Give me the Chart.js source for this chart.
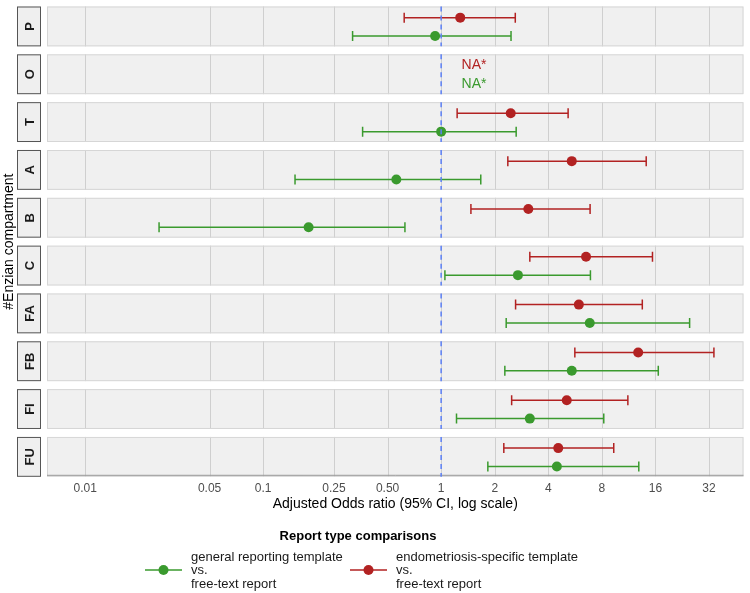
<!DOCTYPE html>
<html>
<head>
<meta charset="utf-8">
<script src="https://cdn.jsdelivr.net/npm/chart.js@4"></script>
<style>
  html, body { margin: 0; background: #fff; }
  #wrap { width: 750px; height: 593px; position: relative; }
</style>
</head>
<body>
<div id="wrap"><canvas id="forest"></canvas></div>
<script>
// Enzian compartments, top to bottom
const compartments = ['P', 'O', 'T', 'A', 'B', 'C', 'FA', 'FB', 'FI', 'FU'];

// endometriosis-specific template vs. free-text report (null = NA*)
const specificOR   = [1.28, null, 2.46, 5.42, 3.09, 6.52, 5.94, 12.8, 5.08, 4.55];
const specificLow  = [0.62, null, 1.23, 2.37, 1.47, 3.15, 2.62, 5.64, 2.49, 2.25];
const specificHigh = [2.61, null, 5.17, 14.2, 6.87, 15.4, 13.5, 34.1, 11.2, 9.33];

// general reporting template vs. free-text report
const generalOR   = [0.925, null, 1.0, 0.56, 0.18, 2.70, 6.84, 5.42, 3.15, 4.47];
const generalLow  = [0.318, null, 0.362, 0.151, 0.026, 1.05, 2.32, 2.28, 1.22, 1.83];
const generalHigh = [2.47, null, 2.64, 1.67, 0.626, 6.9, 24.9, 16.6, 8.2, 12.9];

const xTicks = [0.01, 0.05, 0.1, 0.25, 0.5, 1, 2, 4, 8, 16, 32];
const xTickLabels = ['0.01', '0.05', '0.1', '0.25', '0.50', '1', '2', '4', '8', '16', '32'];

const RED = '#b22222';
const GREEN = '#3a9a2e';
const FONT = '"Liberation Sans", Arial, Helvetica, sans-serif';

// each panel is 1 unit tall, with a 0.2 gap between panels
const PANEL_STEP = 1.2;
const rowY = (i, offset) => i * PANEL_STEP + offset;

function seriesDatasets(label, color, est, low, high, offset) {
    const sets = [];
    const pts = [];
    const caps = [];
    compartments.forEach((c, i) => {
        if (est[i] == null) return;
        const y = rowY(i, offset);
        sets.push({
            type: 'line',
            data: [{x: low[i], y: y}, {x: high[i], y: y}],
            borderColor: color,
            borderWidth: 1.5,
            pointRadius: 0,
            order: 3
        });
        caps.push({x: low[i], y: y}, {x: high[i], y: y});
        pts.push({x: est[i], y: y});
    });
    sets.push({
        type: 'scatter',
        data: caps,
        pointStyle: 'line',
        rotation: 90,
        radius: 5,
        borderColor: color,
        borderWidth: 1.5,
        order: 2
    });
    sets.push({
        type: 'scatter',
        label: label,
        data: pts,
        pointRadius: 5,
        backgroundColor: color,
        borderColor: color,
        borderWidth: 0,
        order: 1
    });
    return sets;
}

const datasets = [].concat(
    seriesDatasets('specific', RED, specificOR, specificLow, specificHigh, 0.28),
    seriesDatasets('general', GREEN, generalOR, generalLow, generalHigh, 0.74)
);

// panels, grid, strips and axis title behind the marks
const panelPlugin = {
    id: 'panels',
    beforeDatasetsDraw(chart) {
        const {ctx, chartArea, scales} = chart;
        const x = scales.x, y = scales.y;
        ctx.save();
        compartments.forEach((c, i) => {
            const top = y.getPixelForValue(i * PANEL_STEP);
            const bot = y.getPixelForValue(i * PANEL_STEP + 1);
            ctx.fillStyle = '#f0f0f0';
            ctx.fillRect(chartArea.left, top, chartArea.width, bot - top);
            ctx.strokeStyle = '#cfcfcf';
            ctx.lineWidth = 1;
            xTicks.forEach(t => {
                const px = Math.round(x.getPixelForValue(t)) + 0.5;
                ctx.beginPath();
                ctx.moveTo(px, top);
                ctx.lineTo(px, bot);
                ctx.stroke();
            });
            ctx.strokeStyle = '#d6d6d6';
            ctx.strokeRect(chartArea.left + 0.5, top + 0.5, chartArea.width - 1, bot - top - 1);

            // strip on the left
            ctx.fillStyle = '#efefef';
            ctx.fillRect(17, top, 24, bot - top);
            ctx.strokeStyle = '#555';
            ctx.strokeRect(17.5, top + 0.5, 23, bot - top - 1);
            ctx.save();
            ctx.translate(30, (top + bot) / 2);
            ctx.rotate(-Math.PI / 2);
            ctx.fillStyle = '#1a1a1a';
            ctx.font = 'bold 13px ' + FONT;
            ctx.textAlign = 'center';
            ctx.textBaseline = 'middle';
            ctx.fillText(c, 0, 0);
            ctx.restore();
        });
        // bottom axis line
        ctx.strokeStyle = '#999';
        ctx.beginPath();
        ctx.moveTo(chartArea.left, chartArea.bottom - 1.5);
        ctx.lineTo(chartArea.right, chartArea.bottom - 1.5);
        ctx.stroke();

        // y title
        ctx.save();
        ctx.translate(9, (chartArea.top + chartArea.bottom) / 2);
        ctx.rotate(-Math.PI / 2);
        ctx.fillStyle = '#000';
        ctx.font = '14px ' + FONT;
        ctx.textAlign = 'center';
        ctx.textBaseline = 'middle';
        ctx.fillText('#Enzian compartment', 0, 0);
        ctx.restore();
        ctx.restore();
    },
    afterDatasetsDraw(chart) {
        const {ctx, scales} = chart;
        const x = scales.x, y = scales.y;
        ctx.save();
        const px = x.getPixelForValue(1);
        ctx.strokeStyle = '#5b7ff5';
        ctx.lineWidth = 1.5;
        ctx.setLineDash([5, 4]);
        compartments.forEach((c, i) => {
            ctx.beginPath();
            ctx.moveTo(px, y.getPixelForValue(i * PANEL_STEP));
            ctx.lineTo(px, y.getPixelForValue(i * PANEL_STEP + 1));
            ctx.stroke();
        });
        ctx.setLineDash([]);
        // NA* labels where no estimate exists
        ctx.font = '14px ' + FONT;
        ctx.textAlign = 'center';
        ctx.textBaseline = 'middle';
        compartments.forEach((c, i) => {
            if (specificOR[i] == null) {
                ctx.fillStyle = RED;
                ctx.fillText('NA*', x.getPixelForValue(1.53), y.getPixelForValue(rowY(i, 0.28)));
            }
            if (generalOR[i] == null) {
                ctx.fillStyle = GREEN;
                ctx.fillText('NA*', x.getPixelForValue(1.53), y.getPixelForValue(rowY(i, 0.74)));
            }
        });
        ctx.restore();
    },
    afterDraw(chart) {
        const ctx = chart.ctx;
        ctx.save();
        ctx.fillStyle = '#000';
        ctx.font = 'bold 13px ' + FONT;
        ctx.textAlign = 'center';
        ctx.textBaseline = 'middle';
        ctx.fillText('Report type comparisons', 358, 536);

        const keys = [
            {color: GREEN, x: 145, lines: ['general reporting template', 'vs.', 'free-text report']},
            {color: RED, x: 350, lines: ['endometriosis-specific template', 'vs.', 'free-text report']}
        ];
        keys.forEach(k => {
            ctx.strokeStyle = k.color;
            ctx.lineWidth = 1.5;
            ctx.beginPath();
            ctx.moveTo(k.x, 570);
            ctx.lineTo(k.x + 37, 570);
            ctx.stroke();
            ctx.fillStyle = k.color;
            ctx.beginPath();
            ctx.arc(k.x + 18.5, 570, 5, 0, Math.PI * 2);
            ctx.fill();
            ctx.fillStyle = '#1a1a1a';
            ctx.font = '13px ' + FONT;
            ctx.textAlign = 'left';
            k.lines.forEach((t, j) => ctx.fillText(t, k.x + 46, 557 + j * 13.5));
        });
        ctx.restore();
    }
};

new Chart(document.getElementById('forest'), {
    type: 'scatter',
    data: {datasets: datasets},
    options: {
        responsive: true,
        maintainAspectRatio: false,
        animation: false,
        layout: {padding: {left: 47, right: 5, top: -1, bottom: 80}},
        plugins: {legend: {display: false}, tooltip: {enabled: false}},
        scales: {
            x: {
                type: 'logarithmic',
                min: 0.0061,
                max: 50,
                grid: {display: false, drawTicks: false},
                border: {display: false},
                afterBuildTicks: axis => { axis.ticks = xTicks.map(v => ({value: v})); },
                ticks: {
                    autoSkip: false,
                    maxRotation: 0,
                    padding: 5,
                    color: '#4d4d4d',
                    font: {size: 12, family: FONT},
                    callback: v => xTickLabels[xTicks.indexOf(v)]
                },
                title: {
                    display: true,
                    text: 'Adjusted Odds ratio (95% CI, log scale)',
                    color: '#000',
                    font: {size: 14, family: FONT},
                    padding: {top: -5, bottom: 0}
                }
            },
            y: {
                type: 'linear',
                min: 0,
                max: compartments.length * PANEL_STEP - 0.2,
                reverse: true,
                display: false
            }
        }
    },
    plugins: [panelPlugin]
});
</script>
</body>
</html>
